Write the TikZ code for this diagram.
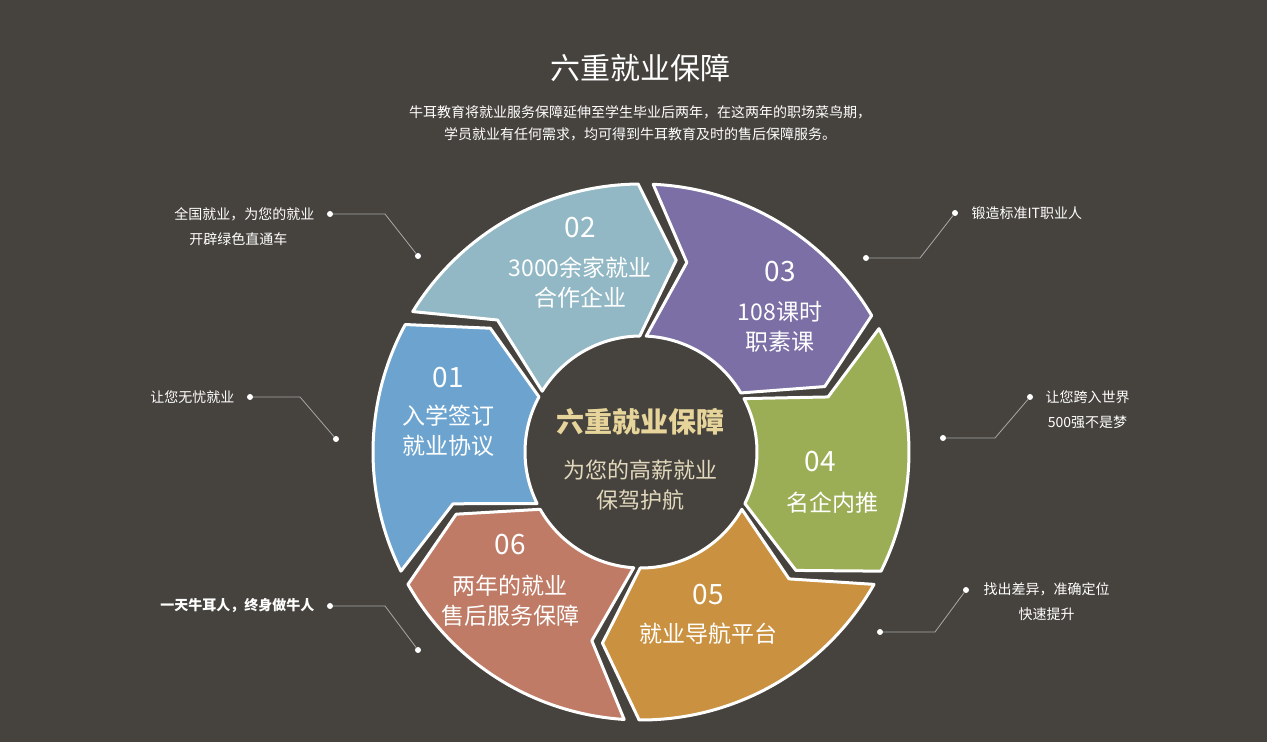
\documentclass[tikz,border=0pt]{standalone}
\usepackage{fontspec}
\setmainfont{Noto Sans CJK SC}
\definecolor{bg}{HTML}{46433E}
\definecolor{cA}{HTML}{6DA4CF}
\definecolor{cB}{HTML}{91B8C4}
\definecolor{cC}{HTML}{7B6FA5}
\definecolor{cD}{HTML}{9CAE55}
\definecolor{cE}{HTML}{C99140}
\definecolor{cF}{HTML}{BF7B65}
\definecolor{gold}{HTML}{E6D49A}
\definecolor{beige}{HTML}{E2D8BC}
\definecolor{lineg}{HTML}{A8A8A8}
\tikzset{
  seg/.style={draw=white,line width=3pt,line join=round},
  segtxt/.style={text=white,align=center,font=\fontsize{23}{30}\selectfont},
  num/.style={text=white,font=\fontsize{28}{32}\selectfont},
  note/.style={text=white,font=\fontsize{14}{25}\selectfont},
  dot/.style={circle,fill=white,inner sep=0pt,minimum size=6pt},
  lead/.style={draw=lineg,line width=0.8pt}
}
\begin{document}
\begin{tikzpicture}[x=1pt,y=1pt]
\fill[bg] (0,0) rectangle (1267,742);
\useasboundingbox (0,0) rectangle (1267,742);
\node[text=white,font=\fontsize{30}{34}\selectfont] (title) at (640,674) {六重就业保障};
\node[text=white,align=center,font=\fontsize{14}{22}\selectfont] (sub) at (640,619) {牛耳教育将就业服务保障延伸至学生毕业后两年，在这两年的职场菜鸟期，\\学员就业有任何需求，均可得到牛耳教育及时的售后保障服务。};
\begin{scope}[shift={(641,290)}]
\foreach \s/\e/\c in {208/150/cA,150/89/cB,89/29/cC,29/-28/cD,-28/-92/cE,-92/-152/cF}{
  \pgfmathsetmacro{\as}{\s-1.6}
  \pgfmathsetmacro{\ae}{\e+1.6}
  \pgfmathsetmacro{\tp}{\ae-11}
  \pgfmathsetmacro{\nt}{\as-11}
  \draw[seg,fill=\c] (\as:268pt) arc[start angle=\as,end angle=\ae,radius=268pt]
     -- (\tp:195pt) -- (\ae:116pt) arc[start angle=\ae,end angle=\as,radius=116pt]
     -- (\nt:195pt) -- cycle;
}
\end{scope}
\node[num] (n01) at (448,364) {01};
\node[segtxt] (t01) at (448,311) {入学签订\\就业协议};
\node[num] (n02) at (580,514) {02};
\node[segtxt] (t02) at (580,459) {3000余家就业\\合作企业};
\node[num] (n03) at (780,470) {03};
\node[segtxt] (t03) at (780,415) {108课时\\职素课};
\node[num] (n04) at (820,280) {04};
\node[segtxt] (t04) at (832,239) {名企内推};
\node[num] (n05) at (708,147) {05};
\node[segtxt] (t05) at (708,108) {就业导航平台};
\node[num] (n06) at (510,197) {06};
\node[segtxt] (t06) at (510,141) {两年的就业\\售后服务保障};
\node[text=gold,font=\bfseries\fontsize{28}{32}\selectfont] (ct) at (640,320) {六重就业保障};
\node[text=beige,align=center,font=\fontsize{22}{30}\selectfont] (cs) at (640,257) {为您的高薪就业\\保驾护航};
% callouts left
\node[note,anchor=east,align=right] (L1) at (318,515) {全国就业，为您的就业\\开辟绿色直通车\hspace*{27pt}};
\node[dot] (d1a) at (330,528) {}; \coordinate (k1) at (385,528); \node[dot] (d1b) at (418,486) {};
\draw[lead] (d1a) -- (k1) -- (d1b);
\node[note,anchor=east] (L2) at (238,345) {让您无忧就业};
\node[dot] (d2a) at (250,345) {}; \coordinate (k2) at (300,345); \node[dot] (d2b) at (336,303) {};
\draw[lead] (d2a) -- (k2) -- (d2b);
\node[note,anchor=east,font=\bfseries\fontsize{14}{20}\selectfont] (L3) at (318,136) {一天牛耳人，终身做牛人};
\node[dot] (d3a) at (330,136) {}; \coordinate (k3) at (385,136); \node[dot] (d3b) at (418,92) {};
\draw[lead] (d3a) -- (k3) -- (d3b);
% callouts right
\node[note,anchor=west] (R1) at (968,529) {锻造标准IT职业人};
\node[dot] (e1a) at (955,529) {}; \coordinate (m1) at (920,484); \node[dot] (e1b) at (866,484) {};
\draw[lead] (e1a) -- (m1) -- (e1b);
\node[note,anchor=west,align=center] (R2) at (1042,332) {让您跨入世界\\500强不是梦};
\node[dot] (e2a) at (1030,345) {}; \coordinate (m2) at (995,304); \node[dot] (e2b) at (943,304) {};
\draw[lead] (e2a) -- (m2) -- (e2b);
\node[note,anchor=west,align=center] (R3) at (980,140) {找出差异，准确定位\\快速提升};
\node[dot] (e3a) at (966,152) {}; \coordinate (m3) at (935,110); \node[dot] (e3b) at (880,110) {};
\draw[lead] (e3a) -- (m3) -- (e3b);
\end{tikzpicture}
\end{document}
